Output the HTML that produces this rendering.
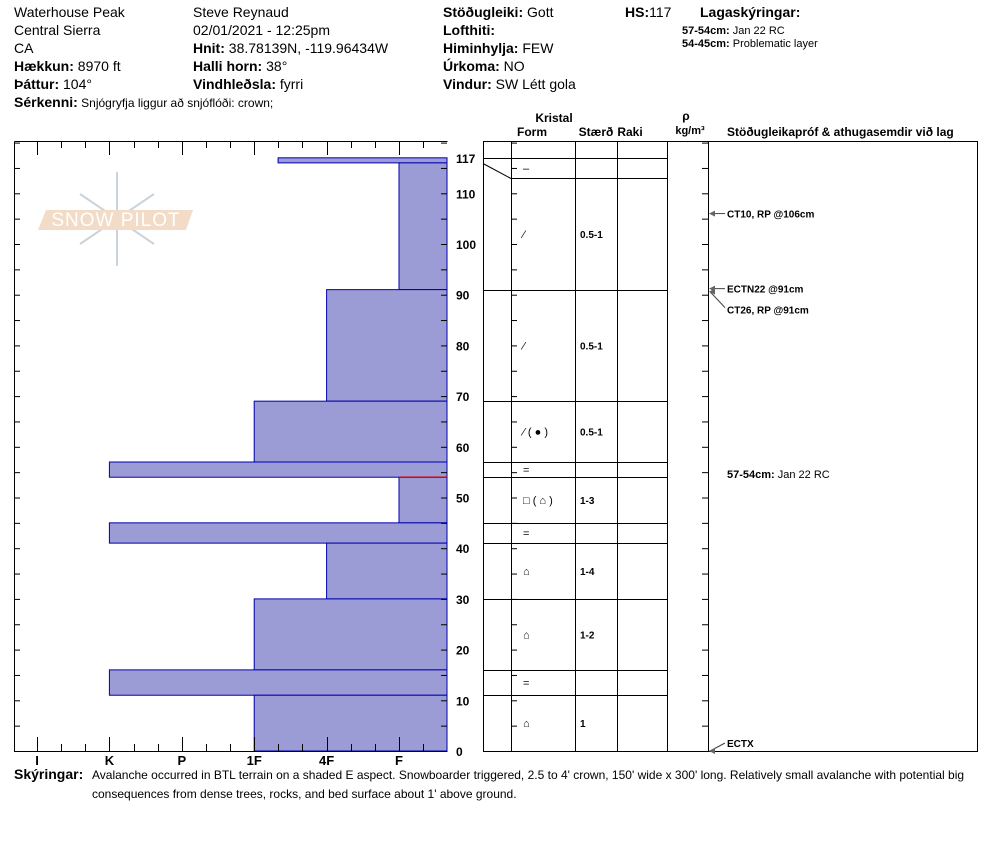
<!DOCTYPE html>
<html><head><meta charset="utf-8">
<style>
body{margin:0;background:#fff;font-family:"Liberation Sans",sans-serif;}
svg text{font-family:"Liberation Sans",sans-serif;}
</style></head>
<body>
<svg id="chart" width="994" height="840" xmlns="http://www.w3.org/2000/svg">
<g font-size="14" fill="#000">
 <text x="14" y="17">Waterhouse Peak</text>
 <text x="14" y="35">Central Sierra</text>
 <text x="14" y="53">CA</text>
 <text x="14" y="71"><tspan font-weight="bold">Hækkun:</tspan> 8970 ft</text>
 <text x="14" y="89"><tspan font-weight="bold">Þáttur:</tspan> 104°</text>
 <text x="14" y="107" font-size="12"><tspan font-weight="bold" font-size="14">Sérkenni:</tspan> Snjógryfja liggur að snjóflóði: crown;</text>
 <text x="193" y="17">Steve Reynaud</text>
 <text x="193" y="35">02/01/2021 - 12:25pm</text>
 <text x="193" y="53"><tspan font-weight="bold">Hnit:</tspan> 38.78139N, -119.96434W</text>
 <text x="193" y="71"><tspan font-weight="bold">Halli horn:</tspan> 38°</text>
 <text x="193" y="89"><tspan font-weight="bold">Vindhleðsla:</tspan> fyrri</text>
 <text x="443" y="17"><tspan font-weight="bold">Stöðugleiki:</tspan> Gott</text>
 <text x="443" y="35" font-weight="bold">Lofthiti:</text>
 <text x="443" y="53"><tspan font-weight="bold">Himinhylja:</tspan> FEW</text>
 <text x="443" y="71"><tspan font-weight="bold">Úrkoma:</tspan> NO</text>
 <text x="443" y="89"><tspan font-weight="bold">Vindur:</tspan>  SW Létt gola</text>
 <text x="625" y="17"><tspan font-weight="bold">HS:</tspan>117</text>
 <text x="700" y="17" font-weight="bold">Lagaskýringar:</text>
 <text x="682" y="34" font-size="11"><tspan font-weight="bold">57-54cm:</tspan> Jan 22 RC</text>
 <text x="682" y="47" font-size="11"><tspan font-weight="bold">54-45cm:</tspan> Problematic layer</text>
</g>
<g opacity="0.55">
 <g stroke="#9fb0bf" stroke-width="2" fill="none">
  <line x1="117" y1="172" x2="117" y2="266"/>
  <line x1="80" y1="194" x2="154" y2="244"/>
  <line x1="154" y1="194" x2="80" y2="244"/>
 </g>
 <polygon points="46,210 193,210 186,230 38,230" fill="#e8c09a"/>
 <text x="116" y="226" font-size="19" fill="#fff" text-anchor="middle" letter-spacing="1">SNOW PILOT</text>
</g>
<g id="hardness"></g>
<g id="grid"></g>
<g font-size="12" font-weight="bold">
 <text x="554" y="122" text-anchor="middle">Kristal</text>
 <text x="532" y="136" text-anchor="middle">Form</text>
 <text x="596" y="136" text-anchor="middle">Stærð</text>
 <text x="630" y="136" text-anchor="middle">Raki</text>
 <text x="686" y="120" text-anchor="middle">ρ</text>
 <text x="690" y="134" text-anchor="middle" font-size="11">kg/m³</text>
 <text x="727" y="136">Stöðugleikapróf &amp; athugasemdir við lag</text>
</g>
<g font-size="12">
 <text x="14" y="779" font-size="14" font-weight="bold">Skýringar:</text>
 <text x="92" y="779">Avalanche occurred in BTL terrain on a shaded E aspect.  Snowboarder triggered, 2.5 to 4' crown, 150' wide x 300' long.  Relatively small avalanche with potential big</text>
 <text x="92" y="798">consequences from dense trees, rocks, and bed surface about 1' above ground.</text>
</g>
</svg>
<script>
const layerTops=[117,116,91,69,57,54,45,41,30,16,11];
const layerBottoms=[116,91,69,57,54,45,41,30,16,11,0];
const layerHardness=[3.33,5,4,3,1,5,1,4,3,1,3];
const hardnessLabels=["I","K","P","1F","4F","F"];
const depthTicks=[0,10,20,30,40,50,60,70,80,90,100,110,117];
const formLayers=[117,113,91,69,57,54,45,41,30,16,11];
const formBottoms=[113,91,69,57,54,45,41,30,16,11,0];
const formGlyphs=["–","⁄","⁄","⁄ ( ● )","=","□ ( ⌂ )","=","⌂","⌂","=","⌂"];
const grainSizes=["","0.5-1","0.5-1","0.5-1","","1-3","","1-4","1-2","","1"];
const testDepths=[106,91,91,0];
const testLabels=["CT10, RP @106cm","ECTN22 @91cm","CT26, RP @91cm","ECTX"];

const NS="http://www.w3.org/2000/svg";
function mk(p,t,a){const e=document.createElementNS(NS,t);for(const k in a)e.setAttribute(k,a[k]);p.appendChild(e);return e;}
const y=cm=>751-cm*5.07;
const x=h=>37+h*72.4;
const H=document.getElementById('hardness');
const G=document.getElementById('grid');
// bars
layerTops.forEach((t,i)=>{
 const r=mk(H,'rect',{x:x(layerHardness[i]),y:y(t),width:447-x(layerHardness[i]),height:y(layerBottoms[i])-y(t),fill:'#9b9bd6',stroke:'#0000b0','stroke-width':1});
 
 
});
mk(H,'line',{x1:399,y1:y(54),x2:447,y2:y(54),stroke:'#e00000','stroke-width':1.5});
// frame
mk(H,'path',{d:'M14.5,141.5H447.5M14.5,141.5V751.5H447.5',stroke:'#000',fill:'none'});
for(let cm=0;cm<=120;cm+=5){mk(H,'line',{x1:14,y1:y(cm)+.5,x2:20,y2:y(cm)+.5,stroke:'#000'});mk(H,'line',{x1:441,y1:y(cm)+.5,x2:447,y2:y(cm)+.5,stroke:'#000'});}
for(let k=0;k<6;k++){
 const xm=Math.round(x(k))+.5;
 mk(H,'line',{x1:xm,y1:737,x2:xm,y2:751,stroke:'#000'});
 mk(H,'line',{x1:xm,y1:141,x2:xm,y2:155,stroke:'#000'});
 for(const f of [-1/3,1/3]){const xs=Math.round(x(k+f))+.5;if(xs>14&&xs<447){mk(H,'line',{x1:xs,y1:744,x2:xs,y2:751,stroke:'#000'});mk(H,'line',{x1:xs,y1:141,x2:xs,y2:148,stroke:'#000'});}}
 const tl=mk(H,'text',{x:x(k),y:765,'font-size':13,'font-weight':'bold','text-anchor':'middle'});tl.textContent=hardnessLabels[k];
 
 
}
depthTicks.forEach(d=>{const t=mk(H,'text',{x:456,y:y(d)+5,'font-size':12,'font-weight':'bold'});t.textContent=d;
 
 });
// grid
mk(G,'path',{d:'M483.5,141.5H977.5V751.5H483.5Z',stroke:'#000',fill:'none'});
[511,575,617,667,708].forEach(c=>mk(G,'line',{x1:c+.5,y1:141,x2:c+.5,y2:751,stroke:'#000'}));
for(let cm=0;cm<=120;cm+=5){mk(G,'line',{x1:511,y1:y(cm)+.5,x2:517,y2:y(cm)+.5,stroke:'#000'});mk(G,'line',{x1:702,y1:y(cm)+.5,x2:708,y2:y(cm)+.5,stroke:'#000'});}
formLayers.forEach((t,i)=>{
 const yy=Math.round(y(t))+.5;
 mk(G,'line',{x1:511,y1:yy,x2:667,y2:yy,stroke:'#000'});
 const ly=Math.round(y(layerTops[i]))+.5;
 mk(G,'line',{x1:483,y1:ly,x2:511,y2:yy,stroke:'#000'});
 const my=(y(t)+y(formBottoms[i]))/2+4;
 const g=mk(G,'text',{x:523,y:my,'font-size':11});g.textContent=formGlyphs[i];
 
 
 const s=mk(G,'text',{x:580,y:my,'font-size':10,'font-weight':'bold'});s.textContent=grainSizes[i];
 
 
});
testDepths.forEach((d,i)=>{
 const ay=y(d)+(i===1?-1:0);
 let ty=ay+4, tx=727;
 if(i===2){ty=y(d)+24;mk(G,'line',{x1:725,y1:ty-6,x2:710,y2:ay+2,stroke:'#444'});}
 else if(i===3){ty=ay-4;mk(G,'line',{x1:725,y1:ty-4,x2:710,y2:ay,stroke:'#444'});}
 else mk(G,'line',{x1:710,y1:ay,x2:725,y2:ay,stroke:'#444'});
 mk(G,'polygon',{points:`709,${i===2?ay+2:ay} 715,${(i===2?ay+2:ay)-3} 715,${(i===2?ay+2:ay)+3}`,fill:'#666'});
 const t=mk(G,'text',{x:tx,y:ty,'font-size':10,'font-weight':'bold'});t.textContent=testLabels[i];
 
 
});
const n=mk(G,'text',{x:727,y:478,'font-size':11});n.innerHTML='<tspan font-weight="bold">57-54cm:</tspan> Jan 22 RC';


</script>
</body></html>
